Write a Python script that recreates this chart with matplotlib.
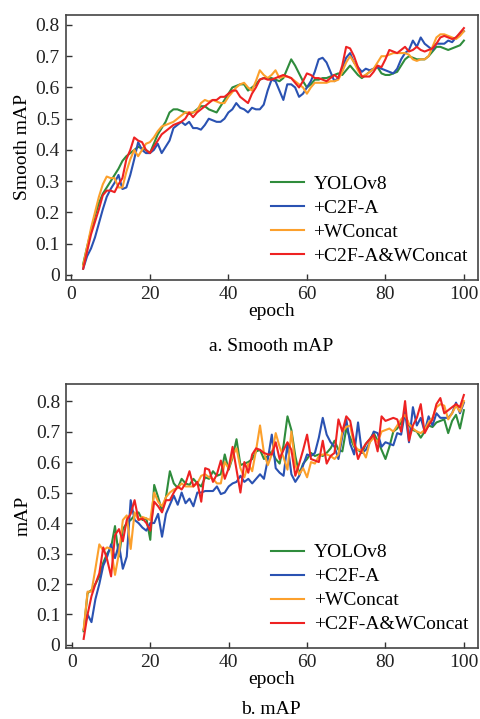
import matplotlib
matplotlib.use("Agg")
import matplotlib.pyplot as plt
import numpy as np

# epochs shown in both panels
epochs = list(range(3, 101))

series_names = ["YOLOv8", "+C2F-A", "+WConcat", "+C2F-A&WConcat"]
series_colors = ["#2f8c3c", "#2a52b2", "#fca02c", "#ee2222"]

# a. Smooth mAP
smooth_yolo = [0.035, 0.09, 0.14, 0.19, 0.23, 0.26, 0.28, 0.30, 0.32, 0.34, 0.365, 0.38, 0.39, 0.40,
               0.41, 0.405, 0.40, 0.39, 0.42, 0.45, 0.47, 0.49, 0.52, 0.53, 0.53, 0.525, 0.52, 0.515,
               0.52, 0.53, 0.54, 0.54, 0.53, 0.525, 0.52, 0.54, 0.56, 0.58, 0.60, 0.605, 0.61, 0.61,
               0.59, 0.60, 0.61, 0.625, 0.63, 0.63, 0.63, 0.625, 0.62, 0.63, 0.66, 0.69, 0.67, 0.645,
               0.62, 0.60, 0.61, 0.625, 0.625, 0.63, 0.63, 0.635, 0.64, 0.645, 0.64, 0.655, 0.67, 0.655,
               0.64, 0.63, 0.64, 0.65, 0.66, 0.665, 0.645, 0.64, 0.64, 0.645, 0.65, 0.67, 0.69, 0.70,
               0.695, 0.69, 0.69, 0.69, 0.70, 0.715, 0.73, 0.73, 0.725, 0.72, 0.725, 0.73, 0.735, 0.75]
smooth_c2f = [0.02, 0.06, 0.085, 0.12, 0.165, 0.21, 0.25, 0.275, 0.295, 0.32, 0.275, 0.28, 0.32, 0.37,
              0.425, 0.40, 0.39, 0.39, 0.40, 0.42, 0.39, 0.41, 0.43, 0.47, 0.48, 0.49, 0.48, 0.49,
              0.47, 0.47, 0.465, 0.48, 0.50, 0.495, 0.49, 0.49, 0.50, 0.52, 0.53, 0.55, 0.535, 0.53,
              0.52, 0.535, 0.53, 0.53, 0.545, 0.59, 0.625, 0.62, 0.59, 0.56, 0.61, 0.61, 0.60, 0.57,
              0.58, 0.60, 0.62, 0.65, 0.69, 0.695, 0.68, 0.65, 0.62, 0.63, 0.66, 0.695, 0.71, 0.68,
              0.665, 0.65, 0.66, 0.655, 0.66, 0.665, 0.66, 0.655, 0.65, 0.645, 0.66, 0.69, 0.71, 0.72,
              0.75, 0.73, 0.76, 0.74, 0.73, 0.72, 0.74, 0.74, 0.74, 0.75, 0.745, 0.76, 0.77, 0.78]
smooth_wconcat = [0.03, 0.09, 0.15, 0.20, 0.25, 0.29, 0.315, 0.31, 0.31, 0.28, 0.28, 0.33, 0.37, 0.40,
                  0.38, 0.40, 0.42, 0.425, 0.44, 0.46, 0.475, 0.48, 0.485, 0.49, 0.50, 0.51, 0.52, 0.52,
                  0.52, 0.525, 0.55, 0.56, 0.555, 0.56, 0.555, 0.55, 0.55, 0.57, 0.585, 0.60, 0.61, 0.615,
                  0.60, 0.59, 0.62, 0.655, 0.64, 0.63, 0.64, 0.655, 0.63, 0.635, 0.635, 0.63, 0.62, 0.61,
                  0.60, 0.58, 0.60, 0.615, 0.615, 0.615, 0.615, 0.62, 0.62, 0.625, 0.65, 0.68, 0.70, 0.68,
                  0.655, 0.635, 0.64, 0.65, 0.66, 0.68, 0.70, 0.70, 0.705, 0.71, 0.71, 0.71, 0.71, 0.705,
                  0.69, 0.685, 0.69, 0.69, 0.70, 0.73, 0.76, 0.77, 0.77, 0.765, 0.76, 0.755, 0.765, 0.78]
smooth_both = [0.02, 0.075, 0.13, 0.17, 0.21, 0.255, 0.27, 0.27, 0.265, 0.29, 0.31, 0.37, 0.40, 0.44,
               0.43, 0.425, 0.40, 0.39, 0.41, 0.43, 0.45, 0.46, 0.47, 0.48, 0.485, 0.49, 0.50, 0.52,
               0.505, 0.52, 0.53, 0.54, 0.55, 0.56, 0.56, 0.57, 0.57, 0.58, 0.59, 0.59, 0.57, 0.56,
               0.55, 0.58, 0.60, 0.625, 0.63, 0.625, 0.625, 0.63, 0.635, 0.64, 0.635, 0.63, 0.615, 0.60,
               0.62, 0.645, 0.64, 0.63, 0.63, 0.625, 0.62, 0.63, 0.64, 0.63, 0.67, 0.73, 0.725, 0.70,
               0.665, 0.635, 0.635, 0.635, 0.65, 0.67, 0.665, 0.69, 0.72, 0.715, 0.71, 0.72, 0.73, 0.715,
               0.72, 0.73, 0.72, 0.715, 0.72, 0.725, 0.74, 0.76, 0.765, 0.76, 0.755, 0.76, 0.775, 0.79]

# b. mAP
map_yolo = [0.045, 0.17, 0.18, 0.20, 0.225, 0.27, 0.30, 0.32, 0.39, 0.29, 0.38, 0.40, 0.41, 0.425,
            0.435, 0.41, 0.415, 0.345, 0.525, 0.485, 0.44, 0.485, 0.57, 0.53, 0.515, 0.545, 0.53, 0.525,
            0.545, 0.53, 0.52, 0.55, 0.545, 0.57, 0.555, 0.56, 0.625, 0.575, 0.615, 0.675, 0.59, 0.595,
            0.60, 0.61, 0.635, 0.64, 0.61, 0.62, 0.635, 0.61, 0.595, 0.655, 0.75, 0.705, 0.62, 0.56,
            0.595, 0.61, 0.63, 0.62, 0.625, 0.62, 0.63, 0.645, 0.67, 0.64, 0.635, 0.71, 0.68, 0.65,
            0.64, 0.63, 0.66, 0.675, 0.695, 0.67, 0.64, 0.61, 0.65, 0.70, 0.71, 0.73, 0.755, 0.72,
            0.705, 0.70, 0.68, 0.70, 0.72, 0.715, 0.73, 0.735, 0.74, 0.695, 0.735, 0.755, 0.71, 0.77]
map_c2f = [0.05, 0.10, 0.075, 0.15, 0.20, 0.26, 0.29, 0.33, 0.285, 0.33, 0.25, 0.29, 0.475, 0.41,
           0.40, 0.385, 0.375, 0.40, 0.40, 0.43, 0.355, 0.43, 0.46, 0.49, 0.46, 0.50, 0.465, 0.48,
           0.455, 0.50, 0.50, 0.505, 0.505, 0.505, 0.52, 0.495, 0.50, 0.52, 0.53, 0.535, 0.555, 0.535,
           0.545, 0.53, 0.545, 0.56, 0.545, 0.61, 0.69, 0.58, 0.565, 0.555, 0.66, 0.56, 0.535, 0.555,
           0.59, 0.625, 0.62, 0.63, 0.68, 0.745, 0.69, 0.665, 0.65, 0.61, 0.685, 0.74, 0.66, 0.625,
           0.73, 0.63, 0.64, 0.665, 0.70, 0.695, 0.65, 0.665, 0.66, 0.655, 0.695, 0.69, 0.765, 0.665,
           0.78, 0.72, 0.745, 0.70, 0.75, 0.72, 0.76, 0.745, 0.745, 0.745, 0.76, 0.795, 0.76, 0.795]
map_wconcat = [0.05, 0.175, 0.175, 0.25, 0.33, 0.31, 0.32, 0.315, 0.23, 0.30, 0.41, 0.425, 0.315, 0.435,
               0.41, 0.42, 0.415, 0.41, 0.50, 0.47, 0.455, 0.485, 0.50, 0.51, 0.515, 0.53, 0.52, 0.52,
               0.52, 0.53, 0.555, 0.56, 0.55, 0.545, 0.53, 0.53, 0.60, 0.58, 0.62, 0.645, 0.58, 0.55,
               0.595, 0.57, 0.64, 0.72, 0.63, 0.59, 0.625, 0.695, 0.65, 0.615, 0.575, 0.70, 0.59, 0.56,
               0.58, 0.55, 0.60, 0.595, 0.62, 0.625, 0.625, 0.62, 0.61, 0.625, 0.70, 0.715, 0.72, 0.655,
               0.64, 0.64, 0.615, 0.665, 0.68, 0.665, 0.70, 0.705, 0.71, 0.70, 0.72, 0.74, 0.755, 0.725,
               0.71, 0.70, 0.695, 0.705, 0.73, 0.745, 0.78, 0.79, 0.785, 0.74, 0.76, 0.785, 0.765, 0.80]
map_both = [0.02, 0.10, 0.16, 0.20, 0.235, 0.32, 0.28, 0.225, 0.36, 0.38, 0.34, 0.41, 0.43, 0.475,
            0.41, 0.415, 0.40, 0.375, 0.47, 0.455, 0.435, 0.475, 0.475, 0.50, 0.52, 0.51, 0.53, 0.57,
            0.52, 0.535, 0.47, 0.58, 0.575, 0.535, 0.56, 0.605, 0.545, 0.58, 0.65, 0.575, 0.50, 0.60,
            0.565, 0.625, 0.645, 0.64, 0.63, 0.625, 0.625, 0.665, 0.61, 0.64, 0.665, 0.64, 0.555, 0.595,
            0.64, 0.69, 0.61, 0.605, 0.60, 0.67, 0.595, 0.62, 0.63, 0.74, 0.70, 0.75, 0.735, 0.67,
            0.61, 0.64, 0.66, 0.675, 0.69, 0.635, 0.75, 0.735, 0.74, 0.745, 0.74, 0.70, 0.80, 0.67,
            0.72, 0.745, 0.79, 0.695, 0.72, 0.74, 0.79, 0.81, 0.76, 0.77, 0.78, 0.79, 0.78, 0.82]

yticks = [0, 0.1, 0.2, 0.3, 0.4, 0.5, 0.6, 0.7, 0.8]
ytick_labels = ["0", "0.1", "0.2", "0.3", "0.4", "0.5", "0.6", "0.7", "0.8"]
xticks = [0, 20, 40, 60, 80, 100]

plt.rcParams["font.family"] = ["Liberation Serif", "DejaVu Serif"]
fs = 14

fig = plt.figure(figsize=(4.8, 7.19), dpi=100)

panels = [
    ([0.1365, 0.6106, 0.8594, 0.3686], [smooth_yolo, smooth_c2f, smooth_wconcat, smooth_both],
     "Smooth mAP", "a. Smooth mAP", (-0.016, 0.832), 0.518),
    ([0.1375, 0.0987, 0.8583, 0.3672], [map_yolo, map_c2f, map_wconcat, map_both],
     "mAP", "b. mAP", (-0.010, 0.856), 0.0135),
]

for rect, data, ylab, caption, ylim, cap_y in panels:
    ax = fig.add_axes(rect)
    for vals, name, col in zip(data, series_names, series_colors):
        ax.plot(epochs, vals, color=col, lw=1.5, label=name)
    ax.set_xlim(-1.5, 103.6)
    ax.set_ylim(*ylim)
    ax.set_xticks(xticks)
    ax.set_yticks(yticks)
    ax.set_yticklabels(ytick_labels)
    ax.tick_params(direction="in", length=4, width=1, colors="#333333",
                   labelcolor="#222222", labelsize=fs, pad=4)
    for sp in ax.spines.values():
        sp.set_color("#444444")
        sp.set_linewidth(1.2)
    ax.set_xlabel("epoch", fontsize=fs, labelpad=0)
    ax.set_ylabel(ylab, fontsize=fs, labelpad=3)
    ax.legend(loc="upper left", bbox_to_anchor=(0.497, 0.395), frameon=False,
              borderpad=0, borderaxespad=0, handlelength=1.7, handletextpad=0.5,
              labelspacing=0.33, fontsize=fs)
    fig.text(0.565, cap_y, caption, ha="center", va="center", fontsize=fs)

fig.savefig("out.png", dpi=100)
